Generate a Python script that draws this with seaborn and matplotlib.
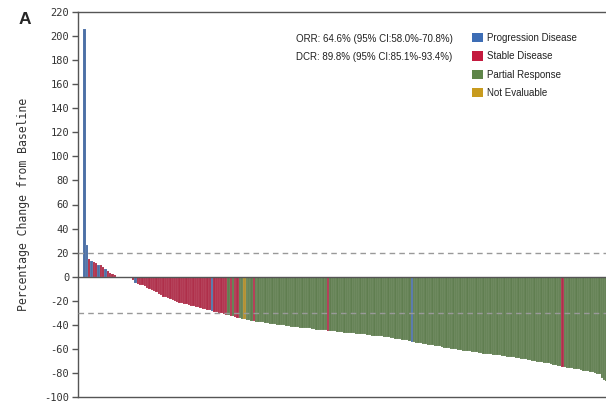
import matplotlib
matplotlib.use("Agg")
import matplotlib.pyplot as plt
import seaborn as sns
import pandas as pd
from matplotlib.patches import Patch

# percentage change from baseline, one value per patient (sorted)
values = [
    206, 26, 15, 13, 12, 11, 10, 9.5, 8, 6, 5, 3, 2, 1, 0, 0, 0, 0, 0, 0, 0,
    -3, -5.5, -6, -6.5, -7, -8, -9.5, -10, -11, -12,
    -13, -14, -15.5, -16.5, -17, -18, -18.5, -19.5, -20, -21,
    -21.5, -22, -22.5, -23, -23.5, -24, -24.5, -25, -25.5, -26,
    -26.5, -27, -27.5, -28, -28.5,
    -29, -29.5, -30, -30.5, -31, -31.5, -32, -32.5, -33, -33.5, -34, -34.5, -35,
    -35.5, -36, -36, -36.5, -37,
    -37.5, -37.5, -38, -38, -38.5, -38.5, -39, -39, -39.5, -40,
    -40, -40.5, -40.5, -41, -41, -41.5, -41.5, -42, -42, -42.5,
    -42.5, -43, -43, -43, -43.5, -43.5, -44, -44, -44, -44.5,
    -44.5, -45, -45, -45.5, -45.5, -46, -46, -46, -46.5, -46.5,
    -47, -47, -47, -47.5, -47.5, -48, -48, -48, -48.5, -48.5,
    -49, -49, -49, -49.5, -49.5, -50, -50, -50.5,
    -51, -51, -51.5, -52, -52, -52.5, -53, -53, -53.5, -54.5,
    -54.5, -55, -55, -55.5, -56, -56, -56.5, -57, -57, -57.5,
    -58, -58, -58.5, -59, -59, -59.5, -60, -60, -60.5, -61,
    -61, -61.5, -61.5, -62, -62, -62.5, -63, -63,
    -63.5, -63.5, -64, -64, -64.5, -64.5, -65, -65, -65.5, -65.5,
    -66, -66, -66.5, -66.5, -67, -67, -67.5, -67.5, -68, -68,
    -68.5, -69,
    -69.5, -70, -70, -70.5, -71, -71, -71.5, -72, -72, -72.5,
    -73, -73.5, -74, -74, -75, -75, -75.5, -76, -76, -76.5,
    -77, -77, -77.5, -78, -78, -78.5, -79, -79.5, -80, -80.5,
    -81, -84, -86, -87,
]

# best response per bar: P = progression, S = stable, R = partial response, N = not evaluable
status_codes = (
    "PPSPSSPSSP" + "SSSSSSSSSSS"
    + "SP" + "S" * 32 + "P"
    + "SSSSSS" + "R" + "S" + "R" + "SS" + "RR" + "N" + "RRR" + "S" + "R" * 10
    + "R" * 21 + "S" + "R" * 26
    + "R" * 9 + "P" + "R" * 28
    + "R" * 22
    + "R" * 14 + "S" + "R" * 19
)

categories = ["Progression Disease", "Stable Disease", "Partial Response", "Not Evaluable"]
code_names = {"P": "Progression Disease", "S": "Stable Disease",
              "R": "Partial Response", "N": "Not Evaluable"}
colors = ["#3D6DB5", "#C41A3E", "#5E8549", "#C89B1E"]

orr_text = "ORR: 64.6% (95% CI:58.0%-70.8%)"
dcr_text = "DCR: 89.8% (95% CI:85.1%-93.4%)"

df = pd.DataFrame({
    "patient": list(range(len(values))),
    "change": values,
    "response": [code_names[c] for c in status_codes],
})
palette = dict(zip(categories, colors))

sns.set_style("ticks")
plt.rcParams["axes.unicode_minus"] = False

W, H = 606, 401
fig = plt.figure(figsize=(W / 100, H / 100), dpi=100)
ax = fig.add_axes([77.5 / W, 4 / H, (640 - 77.5) / W, 385 / H])

sns.barplot(data=df, x="patient", y="change", hue="response", palette=palette,
            hue_order=categories, dodge=False, width=1.0, linewidth=0.25,
            edgecolor="#ffffff48", legend=False, ax=ax)

ax.set_xlim(-3.02, 239.4)
ax.set_ylim(-100, 220)
ax.set_yticks(range(-100, 221, 20))
ax.set_xticks([])
ax.set_xlabel("")

ax.axhline(0, color="#555555", lw=1.0, zorder=3)
ax.axhline(20, color="#999999", lw=1.0, ls=(0, (4, 3)), zorder=3)
ax.axhline(-30, color="#999999", lw=1.0, ls=(0, (4, 3)), zorder=3)

for s in ax.spines.values():
    s.set_color("#555555")
    s.set_linewidth(1.0)
ax.tick_params(axis="y", length=4.5, width=1.0, color="#555555", pad=1.5,
               labelsize=7.5, labelcolor="#333333")
for lab in ax.get_yticklabels():
    lab.set_family("DejaVu Sans Mono")

ax.set_ylabel("Percentage Change from Baseline", family="DejaVu Sans Mono",
              fontsize=8.3, color="#333333", labelpad=10)

fig.text(25 / W, 1 - 19 / H, "A", family="Liberation Sans", fontweight="bold",
         fontsize=12.5, ha="center", va="center")

fig.text(296 / W, 1 - 39 / H, orr_text, family="Liberation Sans", fontsize=7,
         va="center", color="#222222")
fig.text(296 / W, 1 - 57 / H, dcr_text, family="Liberation Sans", fontsize=7,
         va="center", color="#222222")

handles = [Patch(facecolor=c, edgecolor="none", label=n) for n, c in zip(categories, colors)]
leg = fig.legend(handles=handles, loc="upper left", bbox_to_anchor=(472 / W, 1 - 33 / H),
                 frameon=False, borderpad=0, borderaxespad=0, handlelength=1.1,
                 handleheight=1.1, handletextpad=0.4, labelspacing=0.85,
                 prop={"family": "Liberation Sans", "size": 7})
for t in leg.get_texts():
    t.set_color("#222222")

fig.savefig("out.png", dpi=100)
